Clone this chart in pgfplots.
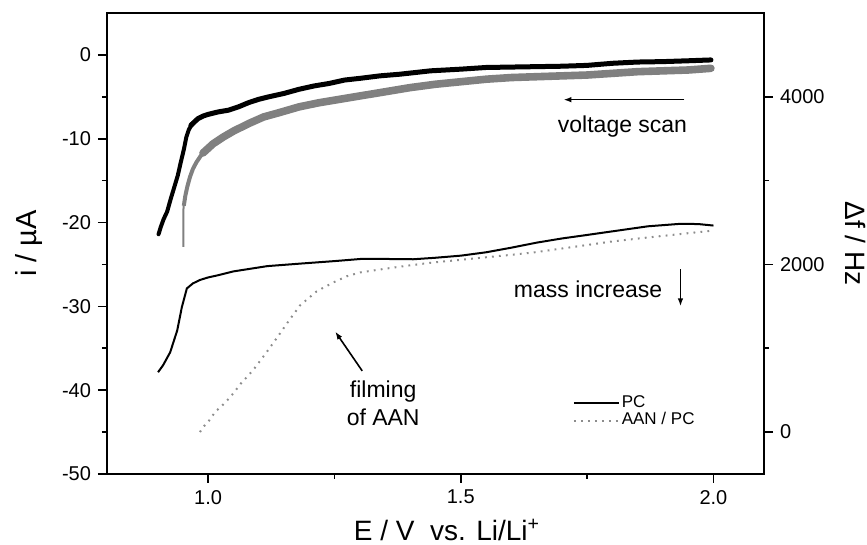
\documentclass[border=0pt]{standalone}
\usepackage{pgfplots}
\pgfplotsset{compat=1.18}
\usepackage{fontspec}
\setmainfont{Liberation Sans}
\usetikzlibrary{arrows.meta,calc}

\pgfplotsset{
  mybase/.style={
    scale only axis, width=328.5pt, height=230.5pt,
    xmin=0.8, xmax=2.1,
    tick align=outside,
    major tick length=4.5pt, minor tick length=2.5pt,
    axis line style={line width=0.8pt},
    major tick style={line width=0.8pt,black},
    minor tick style={line width=0.8pt,black},
    tick label style={font=\fontsize{10}{12}\selectfont},
    clip=false,
  }
}

\begin{document}
\begin{tikzpicture}
\begin{axis}[mybase, ymin=-50, ymax=5,
  xtick={1,1.5,2}, xticklabels={1.0,1.5,2.0}, minor xtick={1.25,1.75},
  ytick={-50,-40,-30,-20,-10,0}, yticklabels={-50,-40,-30,-20,-10,0},
  minor ytick={-45,-35,-25,-15,-5},
  tick pos=left,
  xlabel={E / V\ \ vs. Li/Li\textsuperscript{+}}, ylabel={i / µA},
  every axis x label/.style={at={(axis description cs:0.5175,-0.1445)}, anchor=base, inner sep=0pt, font=\fontsize{14}{16}\selectfont},
  every axis y label/.style={at={(axis description cs:-0.108,0.5)}, rotate=90, anchor=base, inner sep=0pt, font=\fontsize{14.5}{16}\selectfont},
]
% AAN/PC current (gray)
\addplot[gray, line width=1pt] coordinates {(0.951,-22.9) (0.951,-18.6) (0.953,-17.2)};
\addplot[gray, line width=2pt, line join=round] coordinates {
(0.952,-18.0) (0.955,-16.8) (0.959,-15.7) (0.964,-14.6) (0.970,-13.6) (0.977,-12.8) (0.986,-12.0) (0.996,-11.3)};
\addplot[gray, line width=3.8pt, line join=round, line cap=round] coordinates {
(0.990,-11.7) (1.010,-10.6) (1.030,-9.8) (1.050,-9.1) (1.080,-8.2) (1.110,-7.4)
(1.140,-6.9) (1.180,-6.2) (1.220,-5.7) (1.260,-5.3) (1.300,-4.9) (1.350,-4.4)
(1.400,-3.9) (1.450,-3.5) (1.500,-3.2) (1.550,-2.9) (1.600,-2.7) (1.650,-2.6)
(1.700,-2.5) (1.750,-2.4) (1.800,-2.2) (1.850,-2.0) (1.900,-1.9) (1.950,-1.8) (1.995,-1.6)};
% PC current (black)
\addplot[black, line width=2pt, line join=round, line cap=round] coordinates {
(0.902,-21.4) (0.906,-20.6) (0.912,-19.6) (0.919,-18.7) (0.926,-17.2) (0.933,-15.8)
(0.940,-14.4) (0.946,-12.8) (0.952,-11.3) (0.957,-9.8) (0.962,-8.9) (0.970,-8.1)};
\addplot[black, line width=2.5pt, line join=round, line cap=round] coordinates {
(0.966,-8.4) (0.980,-7.6) (0.990,-7.3) (1.000,-7.1) (1.020,-6.8) (1.040,-6.6) (1.060,-6.2)
(1.080,-5.7) (1.100,-5.3) (1.120,-5.0) (1.150,-4.6) (1.180,-4.1) (1.210,-3.7)
(1.240,-3.4) (1.270,-3.0) (1.300,-2.8) (1.340,-2.5) (1.380,-2.3) (1.440,-1.9)
(1.500,-1.7) (1.550,-1.5) (1.600,-1.45) (1.650,-1.4) (1.700,-1.35) (1.750,-1.25)
(1.800,-1.0) (1.850,-0.85) (1.900,-0.8) (1.950,-0.7) (1.995,-0.6)};
% annotations
\draw[line width=0.8pt, -{Latex[length=4pt,width=2.8pt]}] (axis cs:1.9426,-5.34) -- (axis cs:1.703,-5.34);
\node[anchor=base, font=\fontsize{11.5}{13}\selectfont] at (axis cs:1.82,-9.25) {voltage scan};
\node[anchor=base, font=\fontsize{11.5}{13}\selectfont] at (axis cs:1.752,-28.9) {mass increase};
\draw[line width=0.8pt, -{Latex[length=4pt,width=2.8pt]}] (axis cs:1.9347,-25.6) -- (axis cs:1.9347,-30.0);
\node[anchor=base, font=\fontsize{11.5}{13}\selectfont] at (axis cs:1.3465,-40.9) {filming};
\node[anchor=base, font=\fontsize{11.5}{13}\selectfont] at (axis cs:1.3465,-44.2) {of AAN};
\draw[line width=0.8pt, -{Latex[length=4pt,width=2.8pt]}] (axis cs:1.305,-37.7) -- (axis cs:1.2515,-33.0);
\end{axis}

\begin{axis}[mybase, ymin=-500, ymax=5000,
  axis x line=none, axis y line*=right,
  ytick={0,2000,4000}, yticklabels={0,2000,4000}, minor ytick={1000,3000},
  ylabel={Δf / Hz},
  every axis y label/.style={at={(axis description cs:1.1233,0.5)}, rotate=-90, anchor=base, inner sep=0pt, font=\fontsize{14}{16}\selectfont},
  legend style={draw=none, fill=none, at={(axis description cs:0.709,0.1768)}, anchor=north west,
    inner sep=0pt, outer sep=0pt, font=\fontsize{8.5}{10}\selectfont, row sep=-1.6pt,
    nodes={inner sep=1pt, text height=6.3pt, text depth=2.2pt}},
  legend cell align=left,
  legend image code/.code={\draw[#1] (0pt,0pt) -- (22.5pt,0pt);},
]
\addplot[black, line width=1pt, line join=round] coordinates {
(0.901,714) (0.911,798) (0.925,952) (0.939,1214) (0.948,1488) (0.958,1714)
(0.970,1774) (0.984,1815) (1.000,1845) (1.018,1869) (1.050,1917) (1.117,1980)
(1.182,2010) (1.250,2040) (1.307,2068) (1.360,2065) (1.406,2062) (1.450,2080)
(1.500,2105) (1.550,2145) (1.600,2200) (1.650,2260) (1.700,2310) (1.750,2352)
(1.800,2395) (1.870,2455) (1.935,2485) (1.970,2482) (2.000,2464)};
\addlegendentry{PC}
\addplot[black!45, line width=1pt, dash pattern=on 0.9pt off 2.6pt] coordinates {
(0.984,0) (0.990,60) (1.000,120) (1.014,240) (1.030,330) (1.044,417) (1.065,580)
(1.089,738) (1.113,930) (1.137,1131) (1.160,1330) (1.182,1512) (1.215,1680)
(1.248,1786) (1.275,1860) (1.301,1905) (1.354,1952) (1.400,1990) (1.446,2024)
(1.500,2055) (1.545,2083) (1.600,2115) (1.644,2143) (1.700,2190) (1.743,2226)
(1.800,2275) (1.869,2321) (1.930,2360) (2.000,2405)};
\addlegendentry{AAN / PC}
\end{axis}
\pgfresetboundingbox
\useasboundingbox ($(current axis.south west)+(-53.5pt,-35.5pt)$) rectangle ($(current axis.north east)+(51.5pt,6.5pt)$);
\end{tikzpicture}
\end{document}
